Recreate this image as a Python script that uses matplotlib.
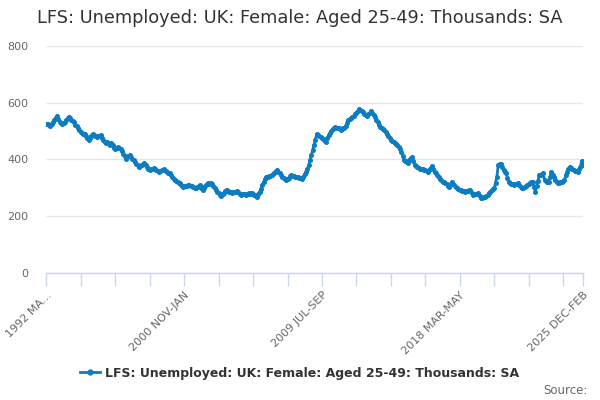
import matplotlib
matplotlib.use("Agg")
import matplotlib.pyplot as plt
from matplotlib.lines import Line2D
import numpy as np

title = "LFS: Unemployed: UK: Female: Aged 25-49: Thousands: SA"
series_name = "LFS: Unemployed: UK: Female: Aged 25-49: Thousands: SA"

# Rolling 3-month periods, 1992 MAR-MAY ... 2025 DEC-FEB (thousands, SA)
values = [
    523, 526, 520, 517, 524, 531, 540, 546, 552, 541, 533, 528,
    523, 528, 532, 538, 545, 550, 546, 540, 534, 530, 522, 517,
    511, 504, 498, 493, 490, 488, 481, 474, 468, 476, 484, 489,
    486, 482, 479, 482, 484, 485, 476, 469, 462, 459, 463, 456,
    452, 458, 450, 441, 435, 439, 444, 441, 438, 429, 420, 411,
    403, 407, 412, 415, 408, 401, 397, 392, 385, 380, 374, 378,
    382, 384, 386, 379, 372, 367, 362, 365, 367, 370, 368, 363,
    360, 357, 360, 362, 364, 365, 361, 357, 354, 351, 344, 338,
    332, 327, 324, 321, 318, 316, 309, 304, 306, 308, 305, 310,
    309, 307, 305, 304, 301, 298, 303, 307, 310, 299, 292, 300,
    308, 313, 316, 314, 318, 313, 306, 299, 292, 287, 281, 276,
    271, 277, 283, 289, 294, 290, 287, 284, 281, 284, 287, 286,
    289, 284, 280, 275, 278, 280, 277, 275, 277, 281, 279, 283,
    280, 276, 272, 269, 278, 286, 297, 310, 320, 330, 339, 337,
    341, 343, 345, 349, 354, 358, 362, 357, 351, 345, 340, 335,
    331, 327, 331, 336, 341, 345, 343, 341, 340, 339, 337, 335,
    334, 333, 340, 349, 357, 366, 380, 397, 415, 432, 450, 468,
    488, 485, 482, 479, 476, 471, 466, 462, 474, 485, 492, 499,
    506, 510, 514, 511, 510, 509, 505, 508, 512, 509, 519, 529,
    538, 541, 545, 549, 553, 558, 564, 570, 576, 573, 569, 565,
    561, 557, 553, 559, 564, 569, 563, 556, 549, 540, 531, 522,
    514, 510, 506, 503, 496, 488, 481, 474, 470, 466, 462, 458,
    454, 450, 442, 435, 427, 412, 397, 393, 390, 386, 398, 405,
    409, 394, 380, 377, 374, 371, 368, 366, 365, 363, 362, 359,
    357, 363, 370, 376, 366, 357, 351, 345, 339, 333, 328, 322,
    319, 316, 312, 308, 304, 313, 321, 315, 309, 303, 298, 296,
    294, 292, 290, 288, 286, 288, 290, 291, 292, 283, 275, 277,
    279, 280, 281, 272, 263, 265, 267, 269, 272, 275, 281, 287,
    292, 295, 298, 318, 339, 380, 385, 383, 372, 362, 356, 351,
    336, 321, 318, 315, 313, 310, 312, 314, 316, 310, 304, 298,
    301, 304, 306, 310, 314, 318, 320, 321, 304, 286, 305, 325,
    345, 347, 349, 351, 327, 324, 322, 321, 339, 357, 347, 337,
    327, 321, 316, 318, 319, 321, 324, 327, 345, 355, 365, 374,
    370, 366, 362, 360, 359, 357, 365, 374, 395, 380,
]

tick_labels = ["1992 MA...", "2000 NOV-JAN", "2009 JUL-SEP", "2018 MAR-MAY", "2025 DEC-FEB"]
y_ticks = [0, 200, 400, 600, 800]

n = len(values)
x = np.arange(n)
label_pos = [0, 104, 208, 312, n - 1]
minor_pos = [p for p in range(0, n, 26) if p not in label_pos]

color = "#0d7cc1"

fig = plt.figure(figsize=(6, 4), dpi=100)
ax = fig.add_axes([0.0772, 0.3168, 0.8945, 0.5692])

ax.plot(x, values, color=color, lw=2.0, marker="o", ms=2.6, mec=color, mfc=color, zorder=3)

ax.set_xlim(0, n - 1)
ax.set_ylim(0, 800)
ax.set_yticks(y_ticks)
ax.set_yticklabels([str(v) for v in y_ticks])
ax.grid(axis="y", color="#e6e6e6", lw=1)
ax.set_axisbelow(True)

for s in ["left", "right", "top"]:
    ax.spines[s].set_visible(False)
ax.spines["bottom"].set_color("#ccd6eb")
ax.spines["bottom"].set_linewidth(1)

ax.set_xticks(label_pos)
ax.set_xticklabels(tick_labels, rotation=45, ha="right", rotation_mode="anchor")
ax.set_xticks(minor_pos, minor=True)
ax.tick_params(axis="x", which="both", length=9, color="#ccd6eb", width=1,
               labelsize=8, labelcolor="#666666", pad=3)
ax.tick_params(axis="y", length=0, labelsize=8, labelcolor="#666666", pad=13)

fig.text(0.5, 0.955, title, ha="center", va="center", fontsize=12.8, color="#333333")

handle = Line2D([], [], color=color, lw=2.0, marker="o", ms=3.5)
leg = fig.legend([handle], [series_name], loc="center", bbox_to_anchor=(0.5, 0.067),
                 frameon=False, handlelength=1.6, handletextpad=0.4,
                 prop={"weight": "bold", "size": 9})
for t in leg.get_texts():
    t.set_color("#333333")

fig.text(0.98, 0.025, "Source:", ha="right", va="center", fontsize=8.5, color="#666666")

fig.savefig("out.png", dpi=100)
